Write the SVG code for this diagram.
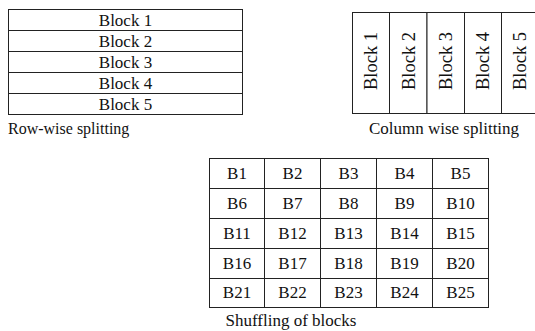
<svg xmlns="http://www.w3.org/2000/svg" width="535" height="331" viewBox="0 0 535 331">
<style>
rect.c{fill:#fff;stroke:#222;stroke-width:1}
text{font-family:"Liberation Serif","Times New Roman",serif;fill:#111;font-size:17px}
text.m{text-anchor:middle}
text.v{text-anchor:middle;font-size:18.5px}
</style>
<rect width="535" height="331" fill="#fff"/>
<g id="row-wise">
<g id="r1"><rect class="c" x="8.5" y="9.5" width="234" height="21"/><text class="m" x="125.5" y="25.5">Block 1</text></g>
<g id="r2"><rect class="c" x="8.5" y="30.5" width="234" height="21"/><text class="m" x="125.5" y="46.5">Block 2</text></g>
<g id="r3"><rect class="c" x="8.5" y="51.5" width="234" height="21"/><text class="m" x="125.5" y="67.5">Block 3</text></g>
<g id="r4"><rect class="c" x="8.5" y="72.5" width="234" height="21"/><text class="m" x="125.5" y="88.5">Block 4</text></g>
<g id="r5"><rect class="c" x="8.5" y="93.5" width="234" height="21"/><text class="m" x="125.5" y="109.5">Block 5</text></g>
<text id="row-label" x="8" y="134" style="font-size:16px">Row-wise splitting</text>
</g>
<g id="column-wise">
<g id="c1"><rect class="c" x="352.5" y="12.5" width="37" height="101"/><text class="v" transform="translate(377,61) rotate(-90)">Block 1</text></g>
<g id="c2"><rect class="c" x="389.5" y="12.5" width="37.5" height="101"/><text class="v" transform="translate(414.5,61) rotate(-90)">Block 2</text></g>
<g id="c3"><rect class="c" x="427" y="12.5" width="37.5" height="101"/><text class="v" transform="translate(452,61) rotate(-90)">Block 3</text></g>
<g id="c4"><rect class="c" x="464.5" y="12.5" width="37" height="101"/><text class="v" transform="translate(489,61) rotate(-90)">Block 4</text></g>
<g id="c5"><rect class="c" x="501.5" y="12.5" width="37" height="101"/><text class="v" transform="translate(526,61) rotate(-90)">Block 5</text></g>
<text id="col-label" class="m" x="444" y="134">Column wise splitting</text>
</g>
<g id="grid">
<g id="b1"><rect class="c" x="209.5" y="158.5" width="55" height="30"/><text class="m" x="237" y="178.5">B1</text></g>
<g id="b2"><rect class="c" x="264.5" y="158.5" width="56" height="30"/><text class="m" x="292.5" y="178.5">B2</text></g>
<g id="b3"><rect class="c" x="320.5" y="158.5" width="56" height="30"/><text class="m" x="348.5" y="178.5">B3</text></g>
<g id="b4"><rect class="c" x="376.5" y="158.5" width="56" height="30"/><text class="m" x="404.5" y="178.5">B4</text></g>
<g id="b5"><rect class="c" x="432.5" y="158.5" width="56" height="30"/><text class="m" x="460.5" y="178.5">B5</text></g>
<g id="b6"><rect class="c" x="209.5" y="188.5" width="55" height="30"/><text class="m" x="237" y="208.5">B6</text></g>
<g id="b7"><rect class="c" x="264.5" y="188.5" width="56" height="30"/><text class="m" x="292.5" y="208.5">B7</text></g>
<g id="b8"><rect class="c" x="320.5" y="188.5" width="56" height="30"/><text class="m" x="348.5" y="208.5">B8</text></g>
<g id="b9"><rect class="c" x="376.5" y="188.5" width="56" height="30"/><text class="m" x="404.5" y="208.5">B9</text></g>
<g id="b10"><rect class="c" x="432.5" y="188.5" width="56" height="30"/><text class="m" x="460.5" y="208.5">B10</text></g>
<g id="b11"><rect class="c" x="209.5" y="218.5" width="55" height="30"/><text class="m" x="237" y="238.5">B11</text></g>
<g id="b12"><rect class="c" x="264.5" y="218.5" width="56" height="30"/><text class="m" x="292.5" y="238.5">B12</text></g>
<g id="b13"><rect class="c" x="320.5" y="218.5" width="56" height="30"/><text class="m" x="348.5" y="238.5">B13</text></g>
<g id="b14"><rect class="c" x="376.5" y="218.5" width="56" height="30"/><text class="m" x="404.5" y="238.5">B14</text></g>
<g id="b15"><rect class="c" x="432.5" y="218.5" width="56" height="30"/><text class="m" x="460.5" y="238.5">B15</text></g>
<g id="b16"><rect class="c" x="209.5" y="248.5" width="55" height="30"/><text class="m" x="237" y="268.5">B16</text></g>
<g id="b17"><rect class="c" x="264.5" y="248.5" width="56" height="30"/><text class="m" x="292.5" y="268.5">B17</text></g>
<g id="b18"><rect class="c" x="320.5" y="248.5" width="56" height="30"/><text class="m" x="348.5" y="268.5">B18</text></g>
<g id="b19"><rect class="c" x="376.5" y="248.5" width="56" height="30"/><text class="m" x="404.5" y="268.5">B19</text></g>
<g id="b20"><rect class="c" x="432.5" y="248.5" width="56" height="30"/><text class="m" x="460.5" y="268.5">B20</text></g>
<g id="b21"><rect class="c" x="209.5" y="278.5" width="55" height="29"/><text class="m" x="237" y="298">B21</text></g>
<g id="b22"><rect class="c" x="264.5" y="278.5" width="56" height="29"/><text class="m" x="292.5" y="298">B22</text></g>
<g id="b23"><rect class="c" x="320.5" y="278.5" width="56" height="29"/><text class="m" x="348.5" y="298">B23</text></g>
<g id="b24"><rect class="c" x="376.5" y="278.5" width="56" height="29"/><text class="m" x="404.5" y="298">B24</text></g>
<g id="b25"><rect class="c" x="432.5" y="278.5" width="56" height="29"/><text class="m" x="460.5" y="298">B25</text></g>
<text id="grid-label" class="m" x="291" y="326">Shuffling of blocks</text>
</g>
<g id="connectors"/>
</svg>
